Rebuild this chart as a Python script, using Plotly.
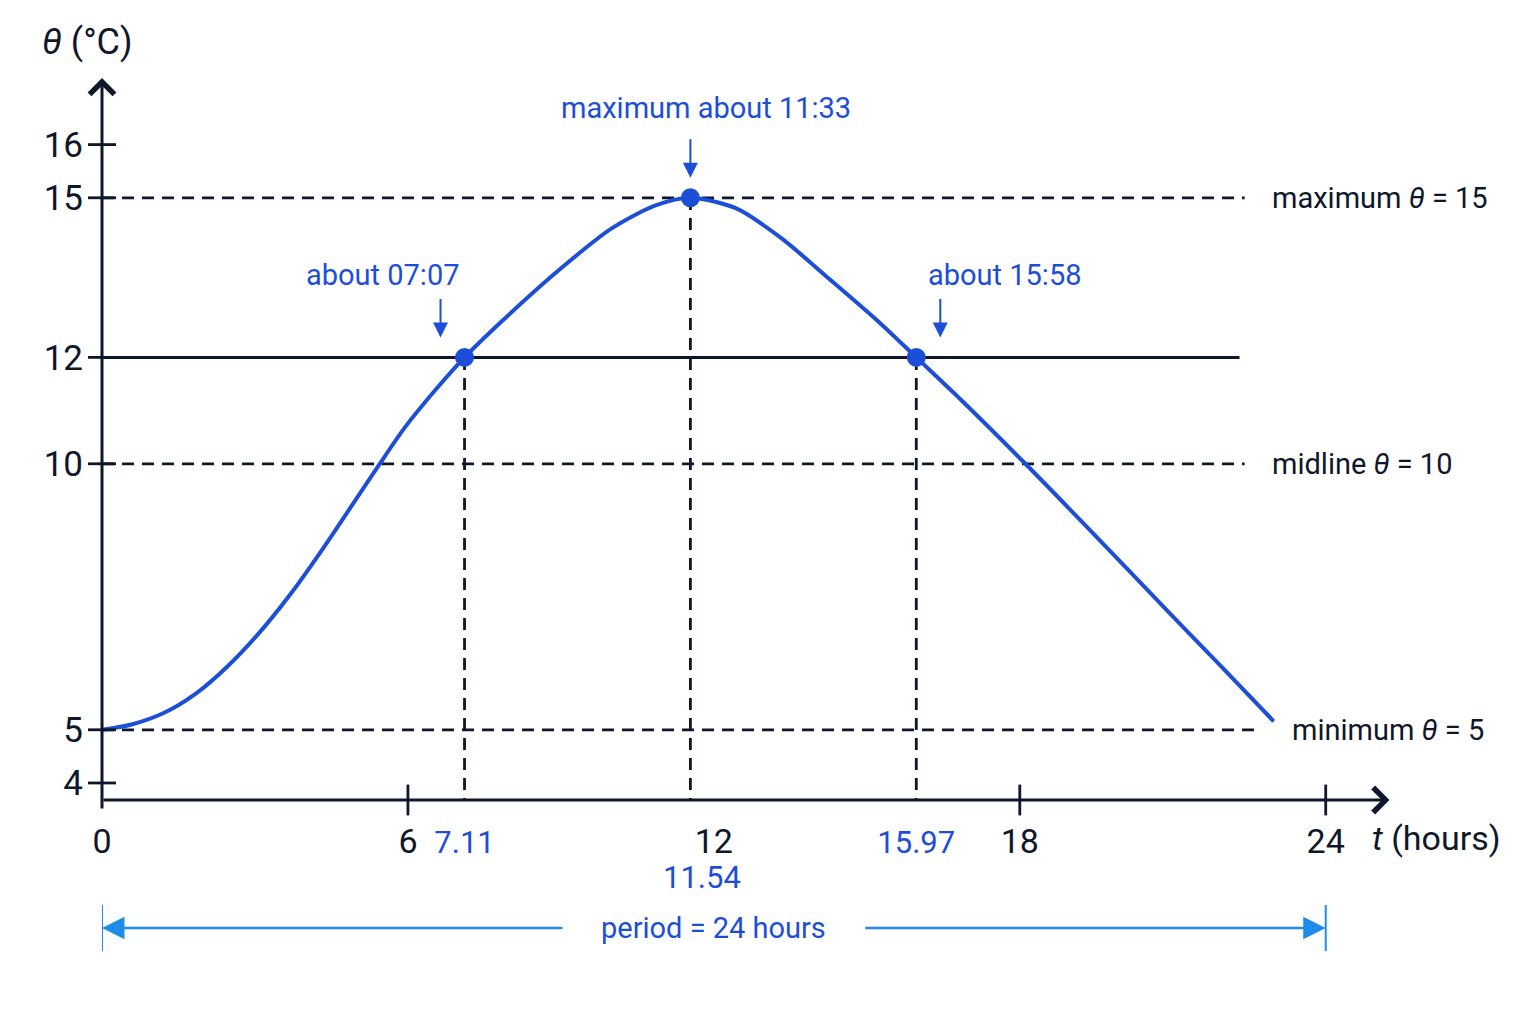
import plotly.graph_objects as go

# temperature curve
hours = [0, 0.58, 1.22, 1.84, 2.46, 3.10, 3.72, 4.35, 4.98, 5.42, 5.93, 6.55, 7.11,
         7.82, 8.91, 9.99, 10.87, 11.54, 12.44, 13.31, 14.27, 15.22, 15.97, 16.85,
         18.11, 19.48, 20.91, 21.94, 22.98]
temps = [5.0, 5.1, 5.32, 5.68, 6.19, 6.84, 7.58, 8.43, 9.33, 9.96, 10.67, 11.4, 12.0,
         12.66, 13.6, 14.42, 14.86, 15.0, 14.8, 14.25, 13.47, 12.68, 12.0, 11.2,
         10.0, 8.65, 7.22, 6.2, 5.16]

# marked points
key_times = [7.11, 11.54, 15.97]
key_temps = [12, 15, 12]
key_notes = ["about 07:07", "maximum about 11:33", "about 15:58"]

# reference levels
ref_levels = [15, 10, 5]
ref_labels = ["maximum <i>θ</i> = 15", "midline <i>θ</i> = 10", "minimum <i>θ</i> = 5"]
threshold = 12
period = 24

y_ticks = [4, 5, 10, 12, 15, 16]
x_ticks = [0, 6, 12, 18, 24]

NAVY = "#0f172a"
BLUE = "#1d4ed8"
SKY = "#1e8ce8"
FONT = "Roboto"

Y_BOT = 3.68
Y_TOP = 17.59
X_MAX = 25.3

fig = go.Figure()

# reference lines
for lev in ref_levels:
    x_end = 22.7 if lev == min(ref_levels) else 22.41
    fig.add_shape(type="line", x0=0, x1=x_end, y0=lev, y1=lev, layer="below",
                  line=dict(color=NAVY, width=2.8, dash="12px,8px"))
fig.add_shape(type="line", x0=0, x1=22.31, y0=threshold, y1=threshold, layer="below",
              line=dict(color=NAVY, width=3))
for t, v in zip(key_times, key_temps):
    fig.add_shape(type="line", x0=t, x1=t, y0=3.49, y1=v, layer="below",
                  line=dict(color=NAVY, width=2.8, dash="12px,8px"))

# curve
fig.add_trace(go.Scatter(x=hours, y=temps, mode="lines",
                         line=dict(color=BLUE, width=4, shape="spline", smoothing=0.8),
                         showlegend=False, hoverinfo="skip"))
# points
fig.add_trace(go.Scatter(x=key_times, y=key_temps, mode="markers",
                         marker=dict(color=BLUE, size=19), showlegend=False,
                         cliponaxis=False))
# tick marks crossing the axes
fig.add_trace(go.Scatter(x=[0] * len(y_ticks), y=y_ticks, mode="markers",
                         marker=dict(symbol="line-ew", size=20,
                                     line=dict(color=NAVY, width=2.8)),
                         showlegend=False, cliponaxis=False, hoverinfo="skip"))
fig.add_trace(go.Scatter(x=[6, 18, 24], y=[Y_BOT] * 3, mode="markers",
                         marker=dict(symbol="line-ns", size=22,
                                     line=dict(color=NAVY, width=2.8)),
                         showlegend=False, cliponaxis=False, hoverinfo="skip"))

annotations = []
# axes with arrow heads
annotations.append(dict(x=0, y=17.25, ax=0, ay=3.49, xref="x", yref="y", axref="x", ayref="y",
                        text="", showarrow=True, arrowhead=4, arrowwidth=3, arrowsize=1.6,
                        arrowcolor=NAVY))
annotations.append(dict(x=25.25, y=Y_BOT, ax=0, ay=Y_BOT, xref="x", yref="y", axref="x",
                        ayref="y", text="", showarrow=True, arrowhead=4, arrowwidth=3,
                        arrowsize=1.6, arrowcolor=NAVY))

# notes above the points
text_shift = [(-82, 82), (16, 90), (88, 82)]
arrow_shift = [-24, 0, 24]
for t, v, note, (dx, dy), ax_shift in zip(key_times, key_temps, key_notes, text_shift, arrow_shift):
    annotations.append(dict(x=t, y=v, xshift=dx, yshift=dy, text=note, showarrow=False,
                            yanchor="middle", font=dict(family=FONT, size=29, color=BLUE)))
    annotations.append(dict(x=t, y=v, xshift=ax_shift, yshift=20, ax=0, ay=-40, text="",
                            showarrow=True, arrowhead=2, arrowwidth=2, arrowsize=1.5,
                            arrowcolor=BLUE))

# labels of reference levels
for lev, lab in zip(ref_levels, ref_labels):
    x_lab = 23.3 if lev == min(ref_levels) else 22.9
    annotations.append(dict(x=x_lab, y=lev, xanchor="left", yanchor="middle", text=lab,
                            showarrow=False, font=dict(family=FONT, size=29, color=NAVY)))

# blue time under 12
annotations.append(dict(x=key_times[1], y=-0.105, yref="paper", yanchor="middle",
                        xshift=12, text=str(key_times[1]), showarrow=False,
                        font=dict(family=FONT, size=31, color=BLUE)))

# axis titles
annotations.append(dict(x=-0.048, y=1.024, xref="paper", yref="paper", xanchor="left",
                        yanchor="middle", text="<i>θ</i> (°C)", showarrow=False,
                        font=dict(family=FONT, size=36, color=NAVY)))
annotations.append(dict(x=24.86, y=-0.051, yref="paper", xanchor="left", yanchor="middle",
                        text="<i>t</i> (hours)", showarrow=False,
                        font=dict(family=FONT, size=34, color=NAVY)))

# period arrow
y_per = -0.173
gap = 2.94
annotations.append(dict(x=0, y=y_per, yref="paper", ax=period / 2 - gap, ay=0, axref="x",
                        ayref="pixel", text="", showarrow=True, arrowhead=2, arrowwidth=2.5,
                        arrowsize=1.8, arrowcolor=SKY))
annotations.append(dict(x=period, y=y_per, yref="paper", ax=period / 2 + gap, ay=0, axref="x",
                        ayref="pixel", text="", showarrow=True, arrowhead=2, arrowwidth=2.5,
                        arrowsize=1.8, arrowcolor=SKY))
annotations.append(dict(x=period / 2, y=y_per, yref="paper", yanchor="middle",
                        text="period = 24 hours", showarrow=False,
                        font=dict(family=FONT, size=29, color=BLUE)))
for xe in [0, period]:
    fig.add_shape(type="line", x0=xe, x1=xe, y0=-0.142, y1=-0.204, xref="x", yref="paper",
                  line=dict(color=SKY, width=2))

tick_text = []
tick_vals = sorted(x_ticks + [key_times[0], key_times[2]])
for v in tick_vals:
    if v in (key_times[0], key_times[2]):
        tick_text.append('<span style="color:%s;font-size:31px">%s</span>' % (BLUE, v))
    else:
        tick_text.append(str(v))

fig.update_layout(
    width=1536, height=1024,
    margin=dict(l=102, r=144, t=60, b=224),
    plot_bgcolor="white", paper_bgcolor="white",
    annotations=annotations,
    xaxis=dict(range=[0, X_MAX], showgrid=False, zeroline=False, showline=False,
               tickvals=tick_vals, ticktext=tick_text, ticks="",
               tickfont=dict(family=FONT, size=34, color=NAVY), ticklabelstandoff=18),
    yaxis=dict(range=[Y_BOT, Y_TOP], showgrid=False, zeroline=False, showline=False,
               tickvals=y_ticks, ticktext=[str(v) for v in y_ticks], ticks="",
               tickfont=dict(family=FONT, size=35, color=NAVY), ticklabelstandoff=18),
)

fig.write_html("out.html", config={"displayModeBar": False},
               post_script="document.body.style.margin='0px';")
